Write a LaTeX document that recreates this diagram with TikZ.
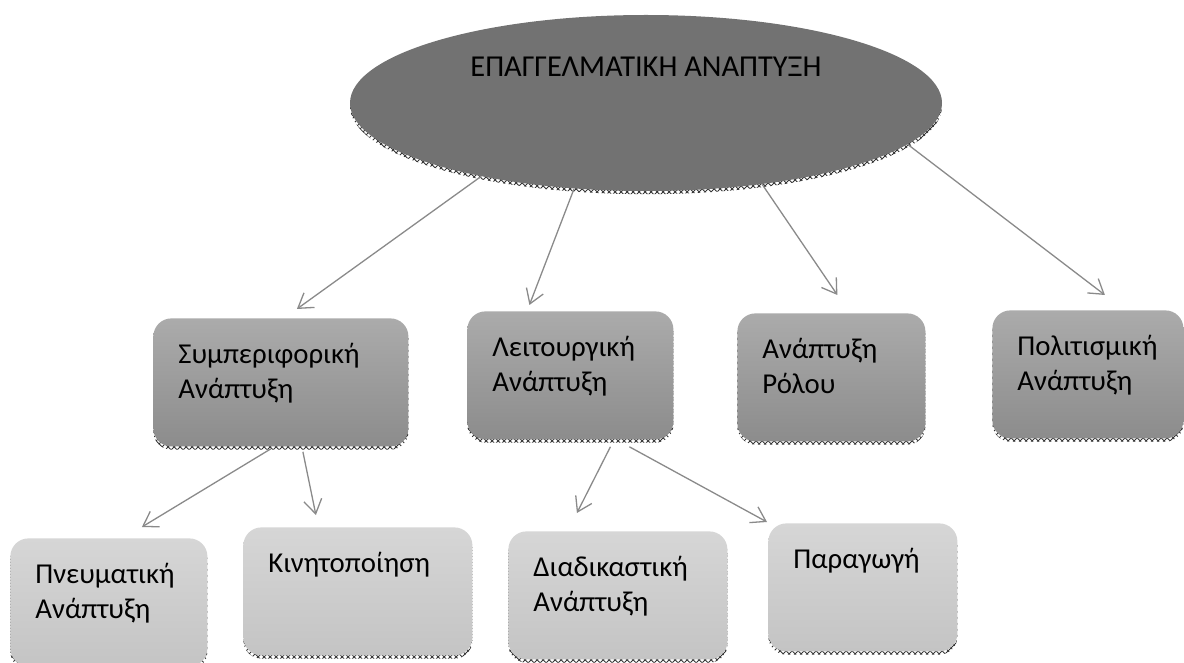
\documentclass[tikz,border=0pt]{standalone}
\usepackage{fontspec}
\setmainfont{Carlito}
\usetikzlibrary{shapes.geometric,shadows,patterns,arrows.meta,calc}
\definecolor{ellgray}{HTML}{727272}
\definecolor{boxtop}{HTML}{ABABAB}
\definecolor{boxbot}{HTML}{8C8C8C}
\definecolor{lowtop}{HTML}{D6D6D6}
\definecolor{lowbot}{HTML}{C4C4C4}
\definecolor{linegray}{HTML}{8A8A8A}
\hyphenpenalty=10000

\begin{document}
\begin{tikzpicture}[x=0.5pt, y=-0.5pt, >={Straight Barb[length=7pt,width=9pt]},
  every node/.style={font=\fontsize{14.4pt}{17.5pt}\selectfont},
  hatch/.style={general shadow={shadow yshift=-1.6pt, pattern=crosshatch, pattern color=black!80}},
  box/.style={hatch, anchor=north west, rounded corners=9pt, align=left, inner xsep=12.5pt, inner ysep=0pt, text height=22.5pt, text depth=41.5pt},
  upper/.style={box, top color=boxtop, bottom color=boxbot},
  lower/.style={box, top color=lowtop, bottom color=lowbot},
  ell/.style={hatch, ellipse, minimum width=296pt, minimum height=88pt, inner sep=0pt, fill=ellgray, font=\fontsize{15.2pt}{17pt}\selectfont, text height=10pt, text depth=36pt},
  link/.style={->, draw=linegray, line width=0.65pt}]
  \useasboundingbox (0,0) rectangle (1184,663);
  \node[ell] (dev) at (646,103) {ΕΠΑΓΓΕΛΜΑΤΙΚΗ ΑΝΑΠΤΥΞΗ};
  \node[upper, text width=102.5pt] (symp) at (153,318) {Συμπεριφορική\\Ανάπτυξη};
  \node[upper, text width=78pt] (leit) at (467,311) {Λειτουργική\\Ανάπτυξη};
  \node[upper, text width=69pt] (rolos) at (737,313) {Ανάπτυξη\\Ρόλου};
  \node[upper, text width=70.5pt] (polit) at (992,310) {Πολιτισμική\\Ανάπτυξη};
  \node[lower, text width=73.5pt] (pneum) at (10,538) {Πνευματική\\Ανάπτυξη};
  \node[lower, text width=89.5pt] (kinit) at (243,527) {Κινητοποίηση};
  \node[lower, text width=84.5pt] (diad) at (508,531) {Διαδικαστική\\Ανάπτυξη};
  \node[lower, text width=69.5pt] (parag) at (768,523) {Παραγωγή};
  \draw[link] (dev.204) -- ($(symp.north)+(16,-9)$);
  \draw[link] (dev.230) -- ($(leit.north)+(-41,-6)$);
  \draw[link] (dev.325) -- ($(rolos.north)+(6,-18)$);
  \draw[link] (dev.351) -- ($(polit.north)+(17,-15)$);
  \draw[link] ($(symp.south)+(-10,2)$) -- ($(pneum.north)+(33,-11)$);
  \draw[link] ($(symp.south)+(22,5)$) -- ($(kinit.north)+(-42,-12)$);
  \draw[link] ($(leit.south)+(40,7)$) -- ($(diad.north)+(-41,-18)$);
  \draw[link] ($(leit.south)+(59,7)$) -- ($(parag.north west)+(-1,-1)$);
\end{tikzpicture}
\end{document}
